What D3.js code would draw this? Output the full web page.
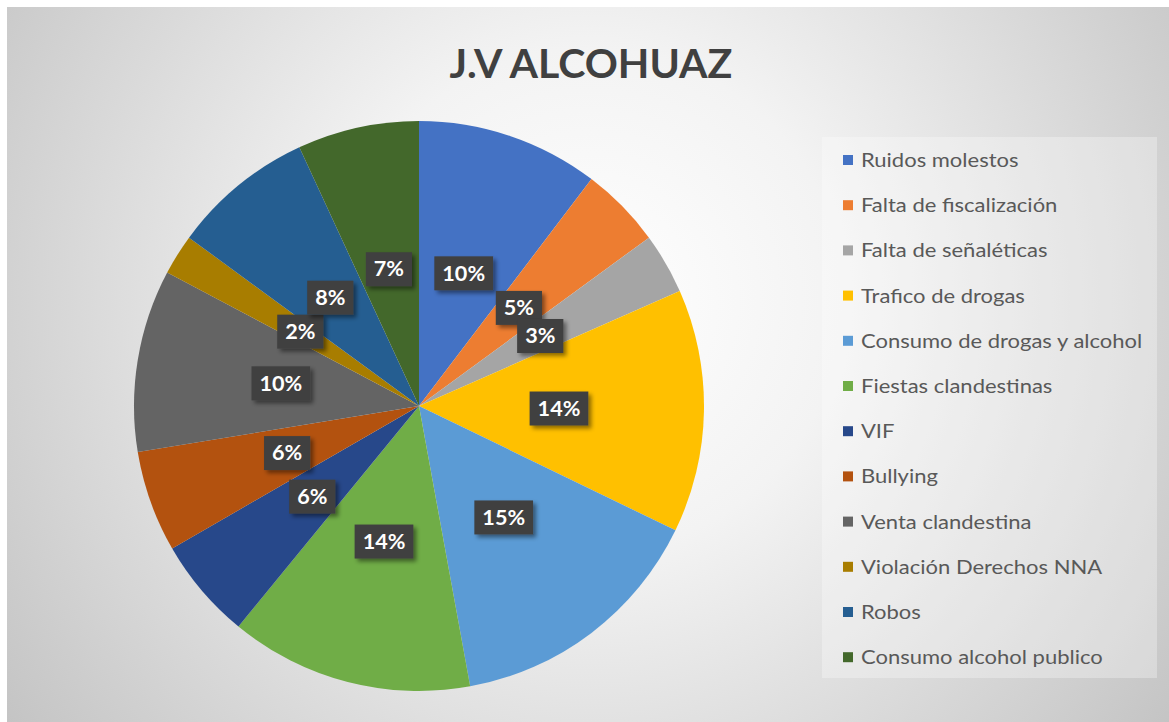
<!DOCTYPE html>
<html>
<head>
<meta charset="utf-8">
<script src="https://cdn.jsdelivr.net/npm/d3@7"></script>
<style>
  body { margin: 0; background: #fff; }
  svg { display: block; }
</style>
</head>
<body>
<div id="chart"></div>
<script>
'use strict';

// datos (conteo por problema)
var categorias = ['Ruidos molestos', 'Falta de fiscalización', 'Falta de señaléticas', 'Trafico de drogas',
    'Consumo de drogas y alcohol', 'Fiestas clandestinas', 'VIF', 'Bullying', 'Venta clandestina',
    'Violación Derechos NNA', 'Robos', 'Consumo alcohol publico'];
var valores = [9, 4, 3, 12, 13, 12, 5, 5, 9, 2, 7, 6];
var colores = ['#4472C4', '#ED7D31', '#A5A5A5', '#FFC000', '#5B9BD5', '#70AD47',
    '#27488A', '#B3520F', '#646464', '#A87D00', '#255E91', '#43682B'];
var titulo = 'J.V ALCOHUAZ';

var grafico = {};
grafico.w = 1169;
grafico.h = 722;
grafico.cx = 419;
grafico.cy = 406;
grafico.radio = 285;
grafico.radioEtiqueta = 140;

grafico.appendSvg = function (div)
{
    var svg = d3.select(div).append('svg')
        .attr('width', grafico.w)
        .attr('height', grafico.h);
    var defs = svg.append('defs');
    var grad = defs.append('radialGradient')
        .attr('id', 'fondo')
        .attr('gradientUnits', 'userSpaceOnUse')
        .attr('cx', 590).attr('cy', 300).attr('r', 720);
    grad.append('stop').attr('offset', '0').attr('stop-color', '#ffffff');
    grad.append('stop').attr('offset', '0.35').attr('stop-color', '#f3f3f3');
    grad.append('stop').attr('offset', '1').attr('stop-color', '#c4c4c4');
    var f = defs.append('filter').attr('id', 'sombra')
        .attr('x', '-30%').attr('y', '-30%').attr('width', '170%').attr('height', '170%');
    f.append('feDropShadow').attr('dx', 3).attr('dy', 3).attr('stdDeviation', 2)
        .attr('flood-color', '#000').attr('flood-opacity', 0.45);

    svg.append('rect')
        .attr('x', 7).attr('y', 7)
        .attr('width', grafico.w - 7).attr('height', grafico.h - 7)
        .attr('fill', 'url(#fondo)');
    return svg;
}

grafico.appendTitulo = function (svg)
{
    svg.append('text')
        .attr('x', 591)
        .attr('y', 78)
        .attr('text-anchor', 'middle')
        .style('font-family', 'Lato, "Open Sans", sans-serif')
        .style('font-weight', 700)
        .style('font-size', '41px')
        .style('fill', '#404040')
        .text(titulo);
}

grafico.appendPie = function (svg)
{
    var datos = categorias.map(function (c, i) { return {nombre: c, valor: valores[i], color: colores[i]}; });
    var total = d3.sum(valores);
    var pie = d3.pie().sort(null).value(function (d) { return d.valor; });
    var arc = d3.arc().innerRadius(0).outerRadius(grafico.radio);
    var arcEtiqueta = d3.arc().innerRadius(grafico.radioEtiqueta).outerRadius(grafico.radioEtiqueta);

    var g = svg.append('g')
        .attr('transform', 'translate(' + grafico.cx + ',' + grafico.cy + ')');

    g.selectAll('.slice')
        .data(pie(datos))
        .enter()
        .append('path')
        .attr('class', 'slice')
        .attr('d', arc)
        .attr('fill', function (d) { return d.data.color; });

    var etiquetas = g.selectAll('.etiqueta')
        .data(pie(datos))
        .enter()
        .append('g')
        .attr('class', 'etiqueta')
        .attr('transform', function (d) { return 'translate(' + arcEtiqueta.centroid(d) + ')'; });

    etiquetas.append('text')
        .attr('text-anchor', 'middle')
        .attr('dy', '0.36em')
        .attr('transform', 'scale(1.08,1)')
        .style('font-family', 'Lato, "Open Sans", sans-serif')
        .style('font-weight', 700)
        .style('font-size', '20px')
        .style('fill', '#ffffff')
        .text(function (d) { return Math.round(d.data.valor / total * 100) + '%'; });

    // caja oscura detras de cada etiqueta
    etiquetas.each(function () {
        var t = d3.select(this).select('text');
        var b = t.node().getBBox();
        var ancho = b.width * 1.08 + 16;
        d3.select(this).insert('rect', 'text')
            .attr('x', -ancho / 2)
            .attr('y', -17)
            .attr('width', ancho)
            .attr('height', 34)
            .attr('fill', '#404040')
            .attr('filter', 'url(#sombra)');
    });
}

grafico.appendLeyenda = function (svg)
{
    svg.append('rect')
        .attr('x', 822).attr('y', 137)
        .attr('width', 335).attr('height', 541)
        .attr('fill', '#ffffff').attr('opacity', 0.3);

    var paso = 45.2;
    var ley = svg.append('g').attr('transform', 'translate(843,160)');
    var items = ley.selectAll('.item')
        .data(categorias)
        .enter()
        .append('g')
        .attr('class', 'item')
        .attr('transform', function (d, i) { return 'translate(0,' + (i * paso) + ')'; });
    items.append('rect')
        .attr('x', 0).attr('y', -5)
        .attr('width', 10).attr('height', 10)
        .attr('fill', function (d, i) { return colores[i]; });
    items.append('text')
        .attr('x', 18)
        .attr('dy', '0.35em')
        .attr('transform', 'translate(18,0) scale(1.1,1) translate(-18,0)')
        .style('font-family', 'Lato, "Open Sans", sans-serif')
        .style('font-size', '20px')
        .style('fill', '#595959')
        .text(function (d) { return d; });
}

var svg = grafico.appendSvg('#chart');
grafico.appendTitulo(svg);
grafico.appendPie(svg);
grafico.appendLeyenda(svg);
</script>
</body>
</html>
